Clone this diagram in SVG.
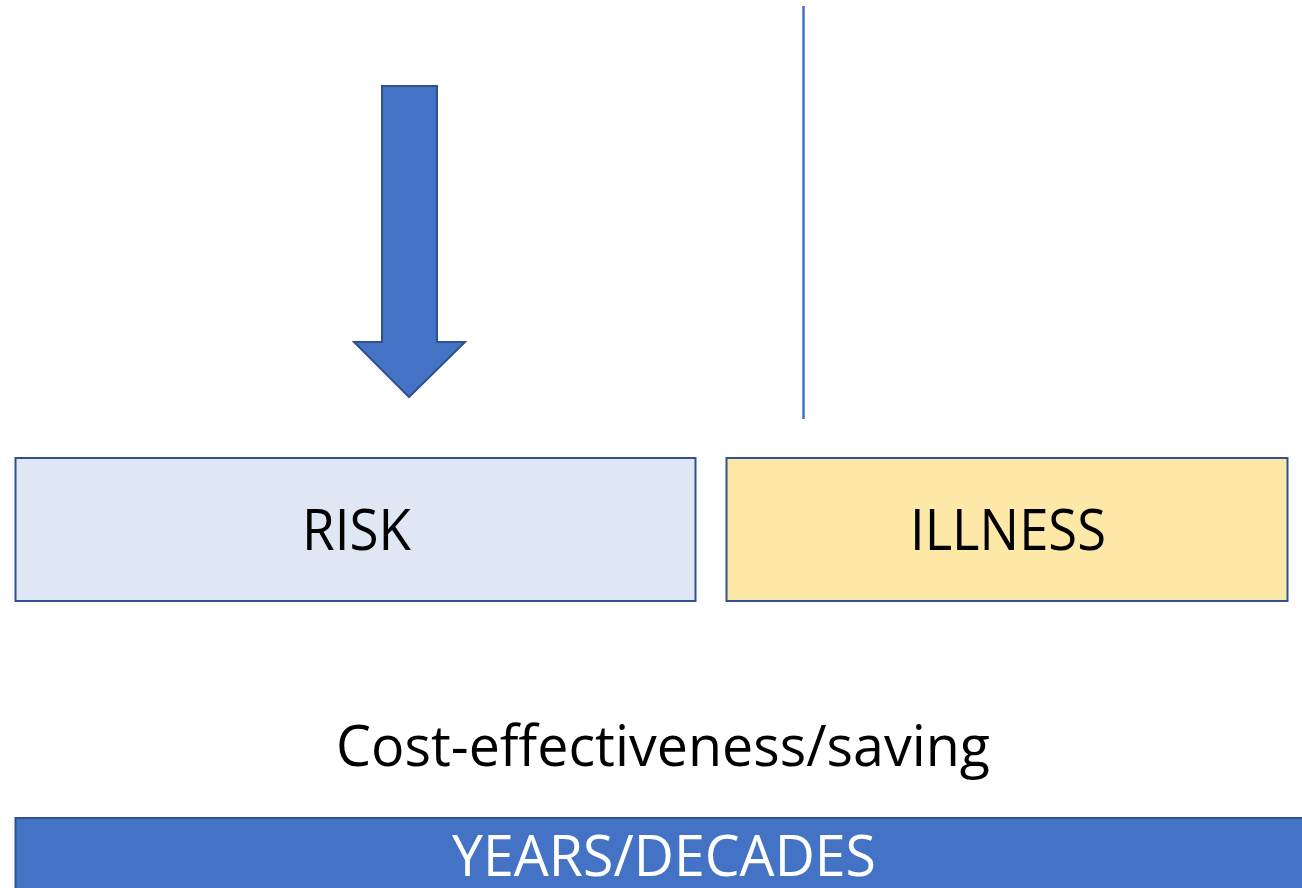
<svg xmlns="http://www.w3.org/2000/svg" width="1302" height="888" viewBox="0 0 1302 888">
  <style>
    .lbl { font-family: "Open Sans", "Liberation Sans", sans-serif; font-size: 56px; fill: #000000; text-anchor: middle; }
    .lbl-w { fill: #FFFFFF; }
    .box { stroke: #2F528F; stroke-width: 2; }
  </style>
  <rect width="1302" height="888" fill="#FFFFFF"/>

  <!-- connectors: downward block arrow and vertical divider -->
  <g id="connectors">
    <path d="M382,86 L437,86 L437,342 L465,342 L409,397 L354,342 L382,342 Z" fill="#4472C4" stroke="#2F528F" stroke-width="2" stroke-linejoin="miter"/>
    <line x1="803.5" y1="6" x2="803.5" y2="419" stroke="#4472C4" stroke-width="2.5"/>
  </g>

  <g id="risk">
    <rect class="box" x="15.5" y="458" width="680" height="143" fill="#DFE6F4"/>
    <text class="lbl" x="356.5" y="550" textLength="109" lengthAdjust="spacingAndGlyphs">RISK</text>
  </g>

  <g id="illness">
    <rect class="box" x="726.5" y="458" width="561" height="143" fill="#FEE8A8"/>
    <text class="lbl" x="1008" y="550" textLength="196" lengthAdjust="spacingAndGlyphs">ILLNESS</text>
  </g>

  <g id="cost">
    <text class="lbl" x="663" y="766" textLength="654" lengthAdjust="spacingAndGlyphs">Cost-effectiveness/saving</text>
  </g>

  <g id="timescale">
    <rect class="box" x="15.5" y="818" width="1300" height="80" fill="#4472C4"/>
    <text class="lbl lbl-w" x="664" y="876" textLength="424" lengthAdjust="spacingAndGlyphs">YEARS/DECADES</text>
  </g>
</svg>
